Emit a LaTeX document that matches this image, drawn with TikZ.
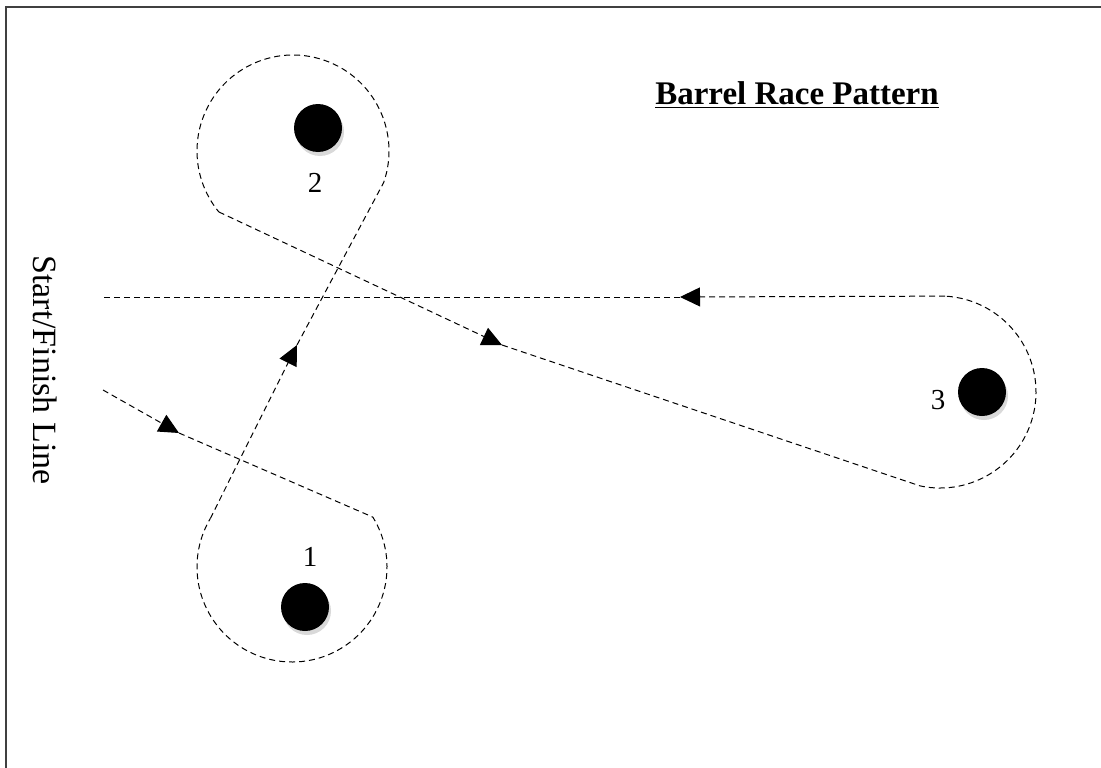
\documentclass[tikz,border=0pt]{standalone}
\usepackage{fontspec}
\setmainfont{Liberation Serif}
\usetikzlibrary{arrows.meta,calc,shadows}

\begin{document}
\begin{tikzpicture}[x=1pt,y=-1pt,
 run/.style={dash pattern=on 6pt off 4pt,line width=1pt},
 tip/.style={-{Triangle[length=20pt,width=19pt]}},
 barrel/.style={circle,fill=black,minimum size=48pt,inner sep=0pt,
  drop shadow={shadow xshift=2pt,shadow yshift=-4pt,opacity=0.3}},
 num/.style={font=\fontsize{29}{30}\selectfont}]
\useasboundingbox (0,0) rectangle (1101,768);
\draw[line width=2pt,black!75] (6,768) -- (6,7) -- (1101,7);
\node[font=\bfseries\fontsize{33}{36}\selectfont,anchor=base] (title) at (797,105) {\underline{Barrel Race Pattern}};
\node[rotate=-90,font=\fontsize{34}{36}\selectfont] (gate) at (45,370) {Start/Finish Line};
% barrels and their numbers
\foreach \b/\bx/\by/\lx/\ly in {1/305/607/310/557,2/318/128/315/183,3/982/392/938/400}
 {\node[barrel] (b\b) at (\bx,\by) {};\node[num] (n\b) at (\lx,\ly) {\b};}
% turning circles round the barrels
\coordinate (c1) at (292,567); \coordinate (c2) at (293,151);
\coordinate (c3) at (940,392);
\coordinate (in1) at ($(c1)+(31.7:95pt)$); \coordinate (out1) at ($(c1)+(149.3:95pt)$);
\coordinate (in2) at ($(c2)+(-19.2:96pt)$); \coordinate (out2) at ($(c2)+(219.4:96pt)$);
\coordinate (in3) at ($(c3)+(-102:96pt)$); \coordinate (out3) at ($(c3)+(87:96pt)$);
% the run
\coordinate (go) at (103,390); \coordinate (fin) at (103,297);
\coordinate (a1) at (179,433); \coordinate (a2) at (297,345);
\coordinate (a3) at (502,345); \coordinate (a4) at (680,297);
\draw[run,tip] (go) -- (a1);
\draw[run] (a1) -- (in1) arc[start angle=31.7,end angle=-210.7,radius=95pt];
\draw[run,tip] (out1) -- (a2);
\draw[run] (a2) -- (in2) arc[start angle=-19.2,end angle=219.4,radius=96pt];
\draw[run,tip] (out2) -- (a3);
\draw[run] (a3) -- (in3) arc[start angle=-102,end angle=87,radius=96pt];
\draw[run,tip] (out3) -- (a4);
\draw[run] (a4) -- (fin);
\end{tikzpicture}
\end{document}
